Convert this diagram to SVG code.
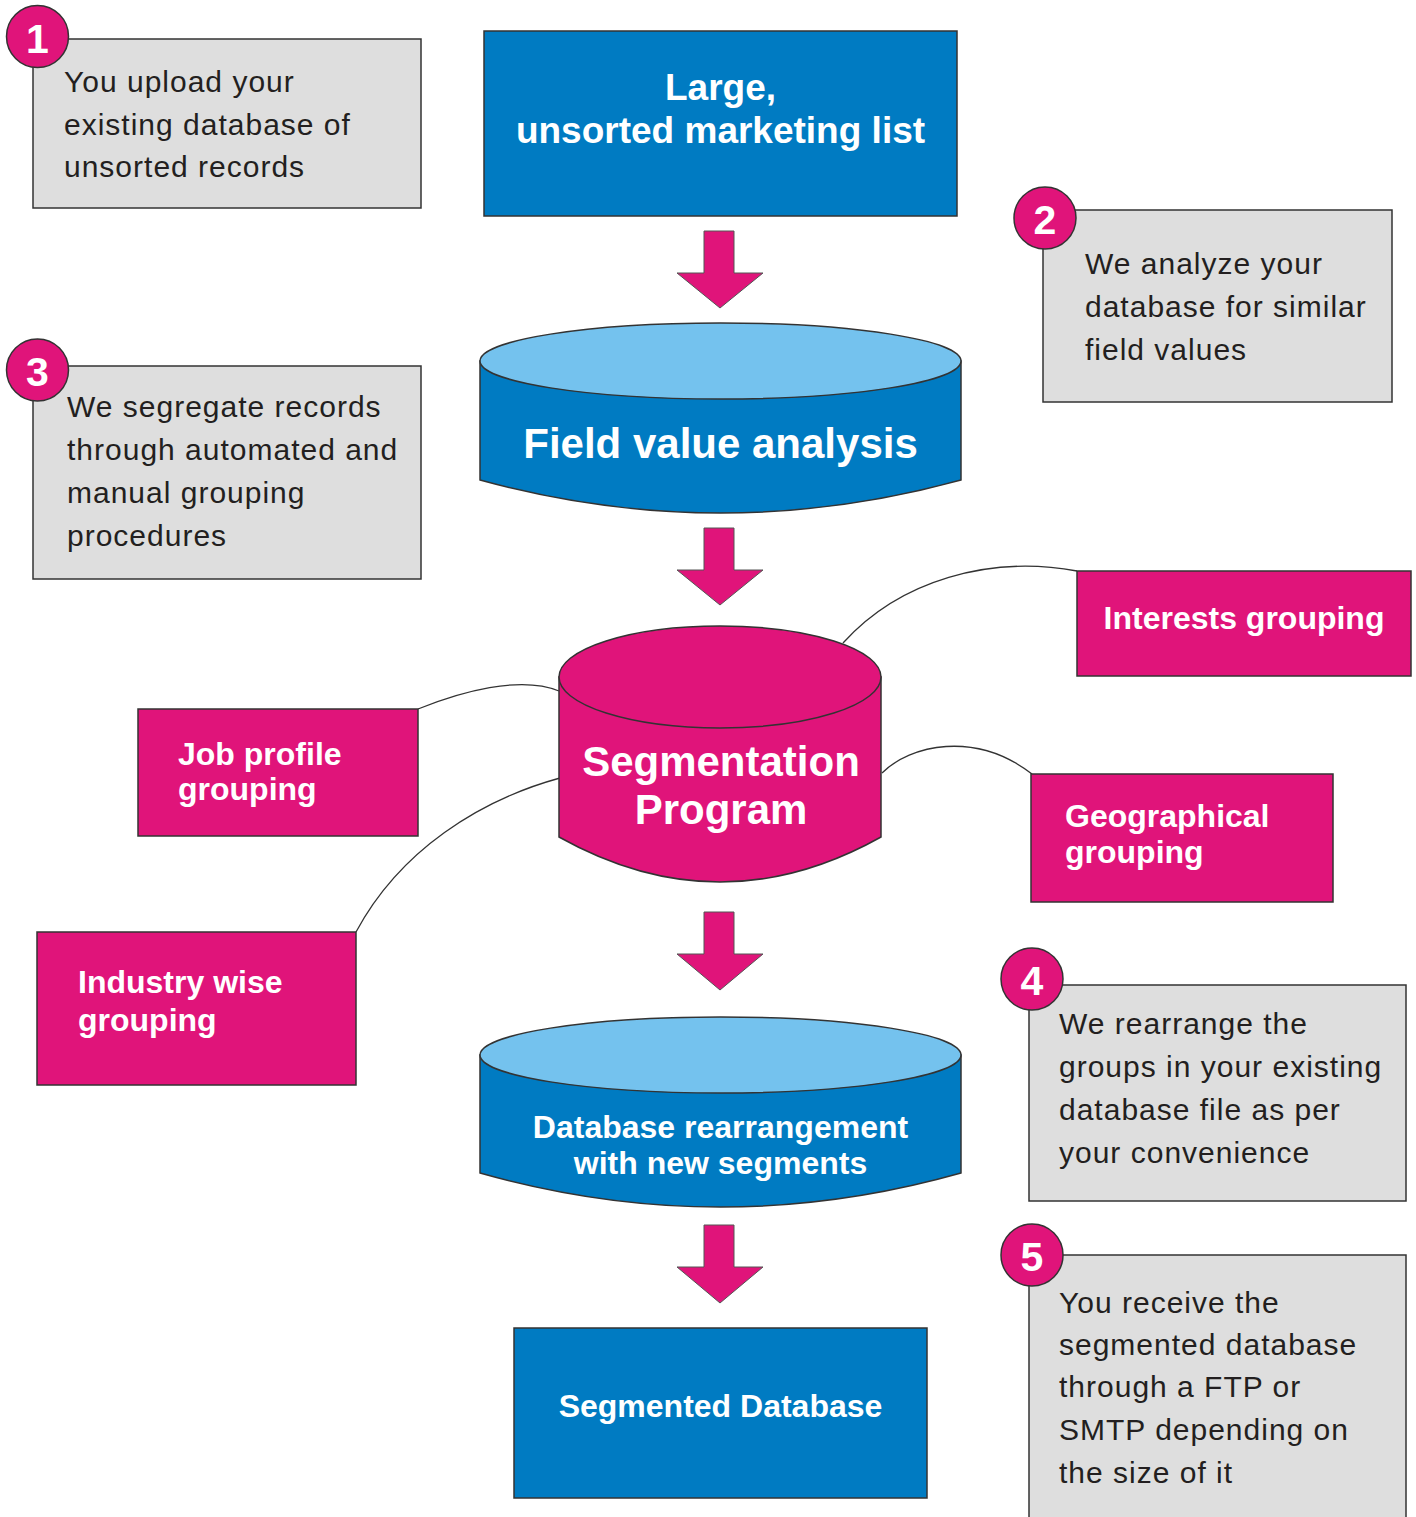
<svg xmlns="http://www.w3.org/2000/svg" width="1416" height="1517" viewBox="0 0 1416 1517">
<style>
.note{fill:#DEDEDE;stroke:#333;stroke-width:1.5}
.nt{font-family:"Liberation Sans",Arial,sans-serif;font-size:30px;letter-spacing:1px;fill:#231F20}
.badge{fill:#E0147A;stroke:#333;stroke-width:1.5}
.bn{font-family:"Liberation Sans",Arial,sans-serif;font-size:41px;font-weight:bold;fill:#fff;text-anchor:middle}
.blue{fill:#007BC2;stroke:#333;stroke-width:1.5}
.lblue{fill:#74C2EE;stroke:#333;stroke-width:1.5}
.mag{fill:#E0147A;stroke:#333;stroke-width:1.5}
.wt{font-family:"Liberation Sans",Arial,sans-serif;font-weight:bold;fill:#fff}
.c{text-anchor:middle}
.arrow{fill:#E0147A;stroke:#555;stroke-width:1}
.conn{fill:none;stroke:#333;stroke-width:1.3}
</style>

<g id="connectors">
<path class="conn" d="M843,643 C900,580 990,555 1077,571"/>
<path class="conn" d="M418,709 C460,692 520,675 559,691"/>
<path class="conn" d="M882,773 C910,745 975,730 1032,774"/>
<path class="conn" d="M356,932 C400,850 480,800 560,778"/>
<polygon class="arrow" points="704,231 734,231 734,273 763,273 720,308 677,273 704,273"/>
<polygon class="arrow" points="704,528 734,528 734,570 763,570 720,605 677,570 704,570"/>
<polygon class="arrow" points="704,912 734,912 734,954 763,954 720,990 677,954 704,954"/>
<polygon class="arrow" points="704,1225 734,1225 734,1267 763,1267 720,1303 677,1267 704,1267"/>
</g>

<g id="step1">
<rect class="note" x="33" y="39" width="388" height="169"/>
<circle class="badge" cx="37.5" cy="36.5" r="31"/>
<text class="bn" x="37.5" y="53">1</text>
<text class="nt" x="64" y="92">You upload your</text>
<text class="nt" x="64" y="135">existing database of</text>
<text class="nt" x="64" y="177">unsorted records</text>
</g>

<g id="step2">
<rect class="note" x="1043" y="210" width="349" height="192"/>
<circle class="badge" cx="1045" cy="218" r="31"/>
<text class="bn" x="1045" y="234">2</text>
<text class="nt" x="1085" y="274">We analyze your</text>
<text class="nt" x="1085" y="317">database for similar</text>
<text class="nt" x="1085" y="360">field values</text>
</g>

<g id="step3">
<rect class="note" x="33" y="366" width="388" height="213"/>
<circle class="badge" cx="37.5" cy="370" r="31"/>
<text class="bn" x="37.5" y="386">3</text>
<text class="nt" x="67" y="417">We segregate records</text>
<text class="nt" x="67" y="460">through automated and</text>
<text class="nt" x="67" y="503">manual grouping</text>
<text class="nt" x="67" y="546">procedures</text>
</g>

<g id="step4">
<rect class="note" x="1029" y="985" width="377" height="216"/>
<circle class="badge" cx="1032" cy="979" r="31"/>
<text class="bn" x="1032" y="995">4</text>
<text class="nt" x="1059" y="1034">We rearrange the</text>
<text class="nt" x="1059" y="1077">groups in your existing</text>
<text class="nt" x="1059" y="1120">database file as per</text>
<text class="nt" x="1059" y="1163">your convenience</text>
</g>

<g id="step5">
<rect class="note" x="1029" y="1255" width="377" height="280"/>
<circle class="badge" cx="1032" cy="1255" r="31"/>
<text class="bn" x="1032" y="1271">5</text>
<text class="nt" x="1059" y="1313">You receive the</text>
<text class="nt" x="1059" y="1355">segmented database</text>
<text class="nt" x="1059" y="1397">through a FTP or</text>
<text class="nt" x="1059" y="1440">SMTP depending on</text>
<text class="nt" x="1059" y="1483">the size of it</text>
</g>

<g id="marketing-list">
<rect class="blue" x="484" y="31" width="473" height="185"/>
<text class="wt c" x="720.5" y="100" font-size="37">Large,</text>
<text class="wt c" x="720.5" y="143" font-size="37">unsorted marketing list</text>
</g>

<g id="field-value-analysis">
<path class="blue" d="M480,361 L480,480 Q720.5,546 961,480 L961,361 Z"/>
<ellipse class="lblue" cx="720.5" cy="361" rx="240.5" ry="38"/>
<text class="wt c" x="720.5" y="458" font-size="42">Field value analysis</text>
</g>

<g id="segmentation-program">
<path class="mag" d="M559,677 L559,837 Q720,927 881,837 L881,677 Z"/>
<ellipse class="mag" cx="720" cy="677" rx="161" ry="51"/>
<text class="wt c" x="721" y="776" font-size="42">Segmentation</text>
<text class="wt c" x="721" y="824" font-size="42">Program</text>
</g>

<g id="interests-grouping">
<rect class="mag" x="1077" y="571" width="334" height="105"/>
<text class="wt c" x="1244" y="629" font-size="32">Interests grouping</text>
</g>

<g id="job-profile-grouping">
<rect class="mag" x="138" y="709" width="280" height="127"/>
<text class="wt" x="178" y="765" font-size="32">Job profile</text>
<text class="wt" x="178" y="800" font-size="32">grouping</text>
</g>

<g id="geographical-grouping">
<rect class="mag" x="1031" y="774" width="302" height="128"/>
<text class="wt" x="1065" y="827" font-size="32">Geographical</text>
<text class="wt" x="1065" y="863" font-size="32">grouping</text>
</g>

<g id="industry-wise-grouping">
<rect class="mag" x="37" y="932" width="319" height="153"/>
<text class="wt" x="78" y="993" font-size="32">Industry wise</text>
<text class="wt" x="78" y="1031" font-size="32">grouping</text>
</g>

<g id="database-rearrangement">
<path class="blue" d="M480,1055 L480,1173 Q720.5,1241 961,1173 L961,1055 Z"/>
<ellipse class="lblue" cx="720.5" cy="1055" rx="240.5" ry="38"/>
<text class="wt c" x="720.5" y="1138" font-size="32">Database rearrangement</text>
<text class="wt c" x="720.5" y="1174" font-size="32">with new segments</text>
</g>

<g id="segmented-database">
<rect class="blue" x="514" y="1328" width="413" height="170"/>
<text class="wt c" x="720.5" y="1417" font-size="32">Segmented Database</text>
</g>
</svg>
